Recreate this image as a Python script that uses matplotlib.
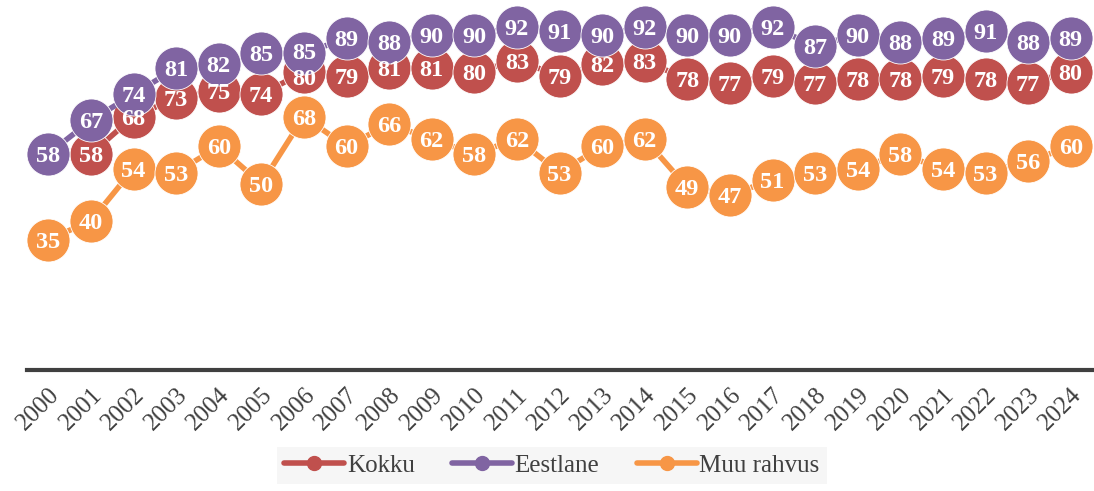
import matplotlib
matplotlib.use("Agg")
import matplotlib.pyplot as plt
import numpy as np

years = [str(y) for y in range(2000, 2025)]
kokku = [np.nan, 58, 68, 73, 75, 74, 80, 79, 81, 81, 80, 83, 79, 82, 83, 78, 77, 79, 77, 78, 78, 79, 78, 77, 80]
eestlane = [58, 67, 74, 81, 82, 85, 85, 89, 88, 90, 90, 92, 91, 90, 92, 90, 90, 92, 87, 90, 88, 89, 91, 88, 89]
muu = [35, 40, 54, 53, 60, 50, 68, 60, 66, 62, 58, 62, 53, 60, 62, 49, 47, 51, 53, 54, 58, 54, 53, 56, 60]

series = [("Kokku", kokku, "#C0504D"), ("Eestlane", eestlane, "#8064A2"), ("Muu rahvus", muu, "#F79646")]

serif = ["Liberation Serif", "DejaVu Serif"]
W, H = 1094, 491
fig = plt.figure(figsize=(W / 100, H / 100), dpi=100)
ax = fig.add_axes([27 / W, (H - 370) / H, (1092 - 27) / W, 367 / H])

x = np.arange(len(years))
k_arr = np.array(kokku, dtype=float)
e_arr = np.array(eestlane, dtype=float)
close = np.abs(e_arr - k_arr) < 6  # labels that would collide get pushed apart

for name, vals, col in series:
    v = np.array(vals, dtype=float)
    ax.plot(x, v, color=col, lw=4, marker="o", markersize=31, markerfacecolor=col,
            markeredgecolor="white", markeredgewidth=0.6, solid_capstyle="round", zorder=2)
    for i, (xi, vi) in enumerate(zip(x, v)):
        if np.isnan(vi):
            continue
        dy = 0
        if close[i]:
            if name == "Kokku":
                dy = -3.5
            elif name == "Eestlane":
                dy = 2
        ax.annotate(f"{int(vi)}", (xi, vi), xytext=(0, dy), textcoords="offset points",
                    color="white", fontsize=17.5, fontweight="bold",
                    family=serif, ha="center", va="center_baseline", zorder=5)

ax.set_xlim(-0.5, 24.5)
ax.set_ylim(0, 98.5)
ax.set_yticks([])
ax.set_xticks(x)
ax.set_xticklabels(years, rotation=45, ha="right", rotation_mode="anchor",
                   fontsize=18, family=serif, color="#404040")
ax.tick_params(axis="x", length=0, pad=10)
for s in ["top", "right", "left"]:
    ax.spines[s].set_visible(False)
ax.spines["bottom"].set_linewidth(3)
ax.spines["bottom"].set_color("#404040")

handles = [plt.Line2D([0], [0], color=c, lw=4, marker="o", markersize=10, solid_capstyle="round")
           for _, _, c in series]
leg = fig.legend(handles, [n for n, _, _ in series], loc="lower center", bbox_to_anchor=(552 / W, -0.012),
                 ncol=3, frameon=True, fancybox=False, handlelength=2.4, handletextpad=0.1,
                 columnspacing=1.5, prop={"family": serif, "size": 18}, borderpad=0.3)
leg.get_frame().set_facecolor("#f4f4f4")
leg.get_frame().set_edgecolor("none")
for t in leg.get_texts():
    t.set_color("#404040")

fig.savefig("out.png", dpi=100)
